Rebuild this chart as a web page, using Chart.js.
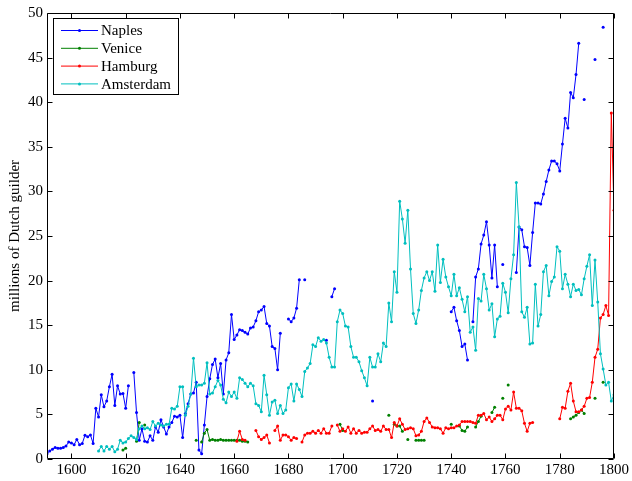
<!DOCTYPE html>
<html>
<head>
<meta charset="utf-8">
<script src="https://cdn.jsdelivr.net/npm/chart.js@4.4.1/dist/chart.umd.min.js"></script>
<style>
  html, body { margin: 0; padding: 0; background: #fff; }
  #wrap { width: 632px; height: 481px; }
</style>
</head>
<body>
<div id="wrap"><canvas id="c" width="632" height="481"></canvas></div>
<script>
// Axis ticks
const xTicks = [1600, 1620, 1640, 1660, 1680, 1700, 1720, 1740, 1760, 1780, 1800];
const yTicks = [0, 5, 10, 15, 20, 25, 30, 35, 40, 45, 50];
const yearMin = 1591, yearMax = 1800;

// Annual values, millions of Dutch guilder; null = no figure for that year
const naplesFrom = 1591;
const naples = [
  0.6, 0.9, 1.1, 1.3, 1.2, 1.2, 1.3, 1.45, 1.9, 1.8,          // 1591-1600
  1.6, 2.2, 1.6, 1.75, 2.65, 2.5, 2.7, 1.75, 5.7, 4.7,        // 1601-1610
  7.2, 5.85, 6.5, 8.1, 9.5, 6.0, 8.2, 7.3, 7.35, 5.7,         // 1611-1620
  8.2, null, 9.7, 5.2, 2.1, 3.4, 2.0, 1.9, 2.6, 2.1,          // 1621-1630
  3.6, 3.0, 4.4, 3.6, 2.8, 3.6, 4.1, 4.8, 4.7, 4.9,           // 1631-1640
  2.4, 5.1, 6.2, 7.3, 7.4, 8.6, 1.0, 0.6, 3.8, 7.0,           // 1641-1650
  9.0, 10.6, 11.2, 9.1, 10.7, 7.3, 11.1, 11.9, 16.2, 13.4,    // 1651-1660
  13.9, 14.5, 14.4, 14.2, 14.0, 14.7, 14.8, 15.5, 16.5, 16.7, // 1661-1670
  17.1, 15.2, 14.9, 12.6, 12.4, 10.0, 14.1, null, null, 15.7, // 1671-1680
  15.4, 15.8, 16.9, 20.1, null, 20.1, null, null, null, null, // 1681-1690
  null, null, null, 13.3, null, 18.2, 19.1, null, null, null, // 1691-1700
  null, null, null, null, null, null, null, null, null, null, // 1701-1710
  6.5, null, null, null, null, null, null, null, null, null,  // 1711-1720
  null, null, null, null, null, null, null, null, null, null, // 1721-1730
  null, null, null, null, null, null, null, null, null, 16.5, // 1731-1740
  17.0, 15.5, 14.4, 12.6, 12.9, 11.1, null, 15.4, 20.4, 21.3, // 1741-1750
  24.1, 25.1, 26.6, 24.0, 20.3, 24.0, 19.3, null, 21.8, null, // 1751-1760
  null, null, null, 20.9, 26.0, 25.7, 23.8, 23.7, 21.7, 25.4, // 1761-1770
  28.7, 28.7, 28.6, 29.7, 31.1, 32.4, 33.4, 33.4, 33.1, 32.3, // 1771-1780
  35.3, 38.2, 37.1, 41.1, 40.5, 43.1, 46.6, null, 40.3, null, // 1781-1790
  null, null, 44.8, null, null, 48.4, null, null, null, null  // 1791-1800
];

const veniceFrom = 1619;
const venice = [
  1.0, 1.2, null, null, null, 2.0, 4.1, null, 3.8, null,      // 1619-1628
  null, null, null, null, null, null, null, null, null, null, // 1629-1638
  null, null, null, null, null, null, null, 2.1, null, 1.9,   // 1639-1648
  2.9, 3.3, 2.1, 2.2, 2.1, 2.1, 2.2, 2.1, 2.1, 2.1,           // 1649-1658
  2.1, 2.1, 2.1, 2.1, 2.0, 2.0, 1.9, null, null, null,        // 1659-1668
  null, null, null, null, null, null, null, null, null, null, // 1669-1678
  null, null, null, null, null, null, null, null, null, null, // 1679-1688
  null, null, null, null, null, null, null, null, null, null, // 1689-1698
  3.9, 3.2, null, null, null, null, null, null, null, null,   // 1699-1708
  null, null, null, null, null, null, null, null, 4.9, null,  // 1709-1718
  3.9, 3.7, 3.7, 3.1, null, 2.2, null, null, 2.1, 2.1,        // 1719-1728
  2.1, 2.1, null, null, null, null, null, null, null, null,   // 1729-1738
  null, 3.9, null, null, 3.7, 3.2, 3.1, 3.6, null, null,      // 1739-1748
  3.6, 4.2, 4.8, null, null, null, 5.2, 5.8, null, null,      // 1749-1758
  6.8, null, 8.3, null, null, null, null, null, null, null,   // 1759-1768
  null, null, null, null, null, null, null, null, null, null, // 1769-1778
  null, null, null, null, null, 4.5, 4.7, 4.9, 5.2, 5.5,      // 1779-1788
  5.1, null, null, null, 6.8, null, null, 8.6, null, null     // 1789-1798
];

const hamburgFrom = 1661;
const hamburg = [
  2.0, 3.1, 2.2, 2.1, null, null, null, 3.2, 2.5, 2.2,        // 1661-1670
  2.4, 2.7, 1.8, null, 3.2, 3.7, 2.1, 2.7, 2.7, 2.5,          // 1671-1680
  2.1, 2.4, 2.3, null, 1.9, 2.7, 2.9, 2.9, 3.1, 2.9,          // 1681-1690
  3.2, 2.9, 3.4, 2.9, 2.9, 3.7, null, 3.8, 3.1, 3.4,          // 1691-1700
  3.1, 3.6, 2.9, 3.4, 2.9, 3.2, 2.9, 3.0, 3.0, 3.4,           // 1701-1710
  3.7, 3.2, 3.3, 3.1, 3.7, 3.3, 3.3, 2.4, 4.1, 3.7,           // 1711-1720
  4.5, 3.9, 3.3, 3.4, 3.5, 3.4, 2.6, 2.7, 3.1, 4.2,           // 1721-1730
  4.6, 4.1, 3.6, 3.5, 3.5, 3.4, 2.9, 3.5, 3.4, 3.5,           // 1731-1740
  3.5, 3.7, 3.8, 4.2, 4.2, 4.2, 4.2, 4.1, 4.0, 4.9,           // 1741-1750
  4.9, 5.1, 4.4, 4.7, 4.2, 4.5, 4.9, 4.9, 4.4, 5.6,           // 1751-1760
  5.9, 5.5, 7.5, 5.7, 5.7, 5.4, 4.0, 3.1, 4.0, 4.1,           // 1761-1770
  null, null, null, null, null, null, null, null, null, 4.5,  // 1771-1780
  5.8, 5.7, 7.6, 8.5, 6.5, 5.3, 5.3, 5.5, 5.9, 6.8,           // 1781-1790
  6.9, 8.6, 11.4, 12.3, 15.8, 16.2, 17.2, 16.1, 38.8, 27.9    // 1791-1800
];

const amsterdamFrom = 1610;
const amsterdam = [
  0.9, 1.4, 0.9, 1.4, 1.1, 1.4, 0.8, 1.1, 2.1, 1.8,           // 1610-1619
  1.9, 2.3, 2.6, 2.4, 2.2, 3.4, 3.7, 3.4, 3.5, 3.3,           // 1620-1629
  4.2, 3.7, 4.0, 3.8, 3.7, 3.9, 3.9, 5.7, 5.6, 5.9,           // 1630-1639
  8.1, 8.1, 4.9, 5.9, 7.3, 11.3, 8.1, 8.3, 8.3, 8.5,          // 1640-1649
  10.8, 7.3, 7.4, 8.1, 8.8, 8.3, 6.7, 6.3, 7.5, 7.0,          // 1650-1659
  7.5, 6.8, 9.1, 8.9, 8.5, 8.1, 8.5, 8.2, 6.2, 6.0,           // 1660-1669
  5.3, 9.4, 7.2, 4.9, 6.4, 6.6, 5.1, 6.0, 5.1, 5.5,           // 1670-1679
  8.0, 8.4, 6.5, 8.4, 7.8, 7.0, 9.8, 10.2, 10.7, 12.8,        // 1680-1689
  12.6, 13.6, 13.2, 13.4, 13.0, 11.4, 10.3, 10.3, 15.4, 16.7, // 1690-1699
  16.3, 14.9, 14.8, 12.6, 11.4, 11.4, 10.9, 9.9, 9.1, 8.2,    // 1700-1709
  11.4, 10.3, 10.3, 11.8, 10.9, 13.0, 12.6, 17.5, 15.4, 21.0, // 1710-1719
  18.7, 28.9, 26.9, 24.2, 27.9, 21.3, 16.3, 15.2, 16.7, 18.9, // 1720-1729
  20.3, 21.0, 20.0, 21.0, 18.8, 24.0, 19.8, 22.4, 20.4, 19.3, // 1730-1739
  18.3, 20.7, 18.3, 19.2, 17.9, 16.5, 18.2, 14.2, 14.8, 12.2, // 1740-1749
  18.0, 17.7, 20.7, 19.1, 16.7, 17.4, 13.7, 15.7, 16.0, 19.7, // 1750-1759
  18.7, 16.4, 20.2, 22.9, 31.0, 26.0, 16.5, 15.9, 17.0, 12.9, // 1760-1769
  13.0, 19.6, 14.9, 16.2, 21.0, 21.7, 18.3, 19.9, 20.4, 23.8, // 1770-1779
  23.3, 19.1, 20.7, 19.6, 18.2, 19.6, 18.9, 19.0, 18.4, 20.2, // 1780-1789
  21.6, 22.9, 17.2, 22.3, 17.6, 11.8, 10.1, 8.3, 8.6, 6.5,    // 1790-1799
  7.2                                                         // 1800
];

// pair each value with its year
function toPoints(from, values) {
  return values.map((v, i) => ({ x: from + i, y: v }));
}

const SERIF = '"Liberation Serif", "DejaVu Serif", serif';

function seriesStyle(label, color, order, points) {
  return {
    label, data: points, order,
    borderColor: color, backgroundColor: color,
    pointBackgroundColor: color, pointBorderColor: color,
    borderWidth: 1, pointRadius: 1.5, pointBorderWidth: 0,
    pointHoverRadius: 0, tension: 0, spanGaps: false
  };
}

// box around the plot with inward ticks on all four sides
const axesFrame = {
  id: 'axesFrame',
  afterDatasetsDraw(chart) {
    const { ctx, chartArea: a, scales: { x, y } } = chart;
    const L = Math.round(a.left) + 0.5, R = Math.round(a.right) - 0.5;
    const T = Math.round(a.top) + 0.5, B = Math.round(a.bottom) - 0.5;
    const len = 5;
    ctx.save();
    ctx.strokeStyle = '#000';
    ctx.lineWidth = 1;
    ctx.beginPath();
    ctx.rect(L, T, R - L, B - T);
    xTicks.forEach(v => {
      const px = Math.round(x.getPixelForValue(v)) + 0.5;
      ctx.moveTo(px, B); ctx.lineTo(px, B - len);
      ctx.moveTo(px, T); ctx.lineTo(px, T + len);
    });
    yTicks.forEach(v => {
      const py = Math.round(y.getPixelForValue(v)) + 0.5;
      ctx.moveTo(L, py); ctx.lineTo(L + len, py);
      ctx.moveTo(R, py); ctx.lineTo(R - len, py);
    });
    ctx.stroke();
    ctx.restore();
  }
};

// legend box in the upper-left corner of the plot
const cornerLegend = {
  id: 'cornerLegend',
  afterDraw(chart) {
    const { ctx } = chart;
    const x0 = 53.5, y0 = 18.5, w = 125, h = 76;
    ctx.save();
    ctx.fillStyle = '#fff';
    ctx.fillRect(x0, y0, w, h);
    ctx.strokeStyle = '#000';
    ctx.lineWidth = 1;
    ctx.strokeRect(x0, y0, w, h);
    ctx.font = '15px ' + SERIF;
    ctx.textBaseline = 'middle';
    ctx.textAlign = 'left';
    chart.data.datasets.forEach((ds, i) => {
      const yy = 30.5 + i * 17.8;
      ctx.strokeStyle = ds.borderColor;
      ctx.beginPath();
      ctx.moveTo(61, yy); ctx.lineTo(98, yy);
      ctx.stroke();
      ctx.fillStyle = ds.borderColor;
      ctx.beginPath();
      ctx.arc(79.5, yy, 1.5, 0, Math.PI * 2);
      ctx.fill();
      ctx.fillStyle = '#000';
      ctx.fillText(ds.label, 101, yy + 1);
    });
    ctx.restore();
  }
};

new Chart(document.getElementById('c'), {
  type: 'line',
  data: {
    datasets: [
      seriesStyle('Naples', '#0000ff', 4, toPoints(naplesFrom, naples)),
      seriesStyle('Venice', '#008000', 3, toPoints(veniceFrom, venice)),
      seriesStyle('Hamburg', '#ff0000', 2, toPoints(hamburgFrom, hamburg)),
      seriesStyle('Amsterdam', '#00bfbf', 1, toPoints(amsterdamFrom, amsterdam))
    ]
  },
  options: {
    responsive: false,
    devicePixelRatio: 1,
    animation: false,
    events: [],
    layout: { padding: { left: 0, top: 12, right: 18, bottom: 0 } },
    plugins: { legend: { display: false }, tooltip: { enabled: false } },
    scales: {
      x: {
        type: 'linear', min: yearMin, max: yearMax,
        grid: { display: false, drawTicks: false },
        border: { display: false },
        afterBuildTicks: s => { s.ticks = xTicks.map(v => ({ value: v })); },
        afterFit: s => { s.height = 22; },
        ticks: {
          autoSkip: false, maxRotation: 0, minRotation: 0, padding: 2,
          color: '#000', font: { family: SERIF, size: 15 },
          callback: v => String(v)
        }
      },
      y: {
        type: 'linear', min: 0, max: 50,
        grid: { display: false, drawTicks: false },
        border: { display: false },
        afterBuildTicks: s => { s.ticks = yTicks.map(v => ({ value: v })); },
        afterFit: s => { s.width = 47; },
        ticks: {
          autoSkip: false, padding: 4,
          color: '#000', font: { family: SERIF, size: 15 },
          callback: v => String(v)
        },
        title: {
          display: true, text: 'millions of Dutch guilder',
          color: '#000', font: { family: SERIF, size: 15 },
          padding: { top: 6, bottom: 0 }
        }
      }
    }
  },
  plugins: [axesFrame, cornerLegend]
});
</script>
</body>
</html>
